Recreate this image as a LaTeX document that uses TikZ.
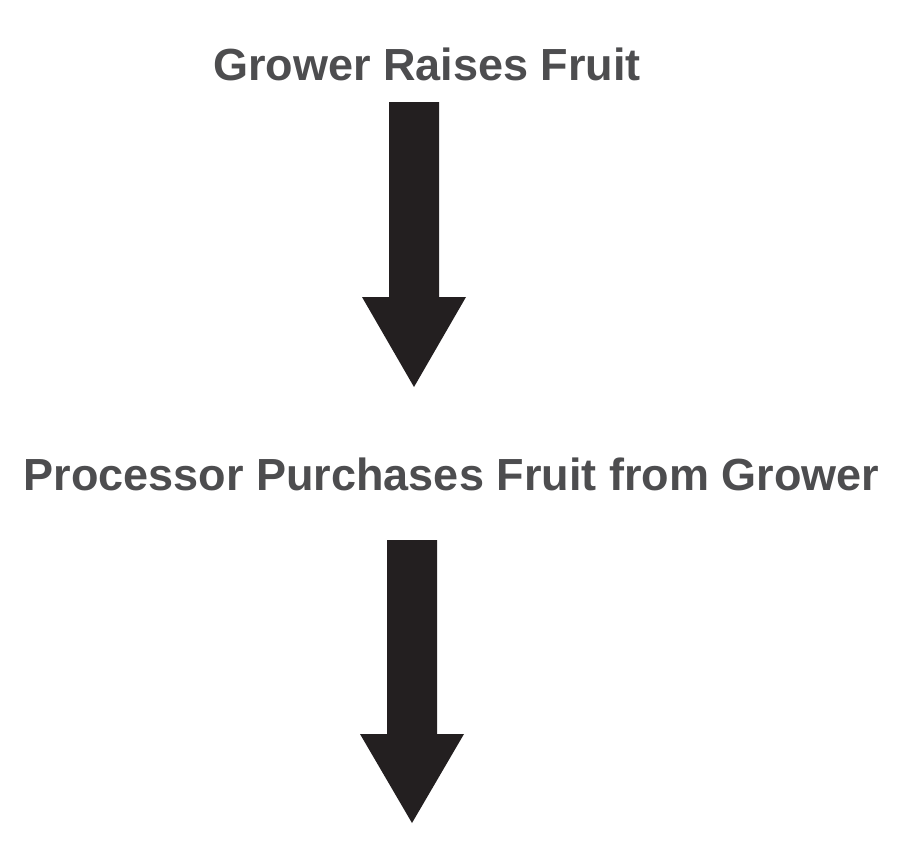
\documentclass[tikz,border=0pt]{standalone}
\usepackage{fontspec}
\setmainfont{Liberation Sans}
\begin{document}
\begin{tikzpicture}[x=1bp,y=-1bp,
  label/.style={font=\bfseries\fontsize{45bp}{54bp}\selectfont, text=txtgray, inner sep=0pt, anchor=base},
  bigarrow/.style={fill=arrblack, draw=none}]
\definecolor{txtgray}{HTML}{4D4D4F}
\definecolor{arrblack}{HTML}{231F20}
\useasboundingbox[fill=white] (0,0) rectangle (901,866);
\node[label] (t1) at (427,80) {Grower Raises Fruit};
\node[label] (t2) at (451.5,490) {Processor Purchases Fruit from Grower};
% arrow 1
\fill[bigarrow] (389,102) -- (439,102) -- (439,297) -- (466,297) -- (414,387) -- (362,297) -- (389,297) -- cycle;
% arrow 2
\fill[bigarrow] (387,540) -- (437,540) -- (437,734) -- (464,734) -- (412,823) -- (360,734) -- (387,734) -- cycle;
\end{tikzpicture}
\end{document}
